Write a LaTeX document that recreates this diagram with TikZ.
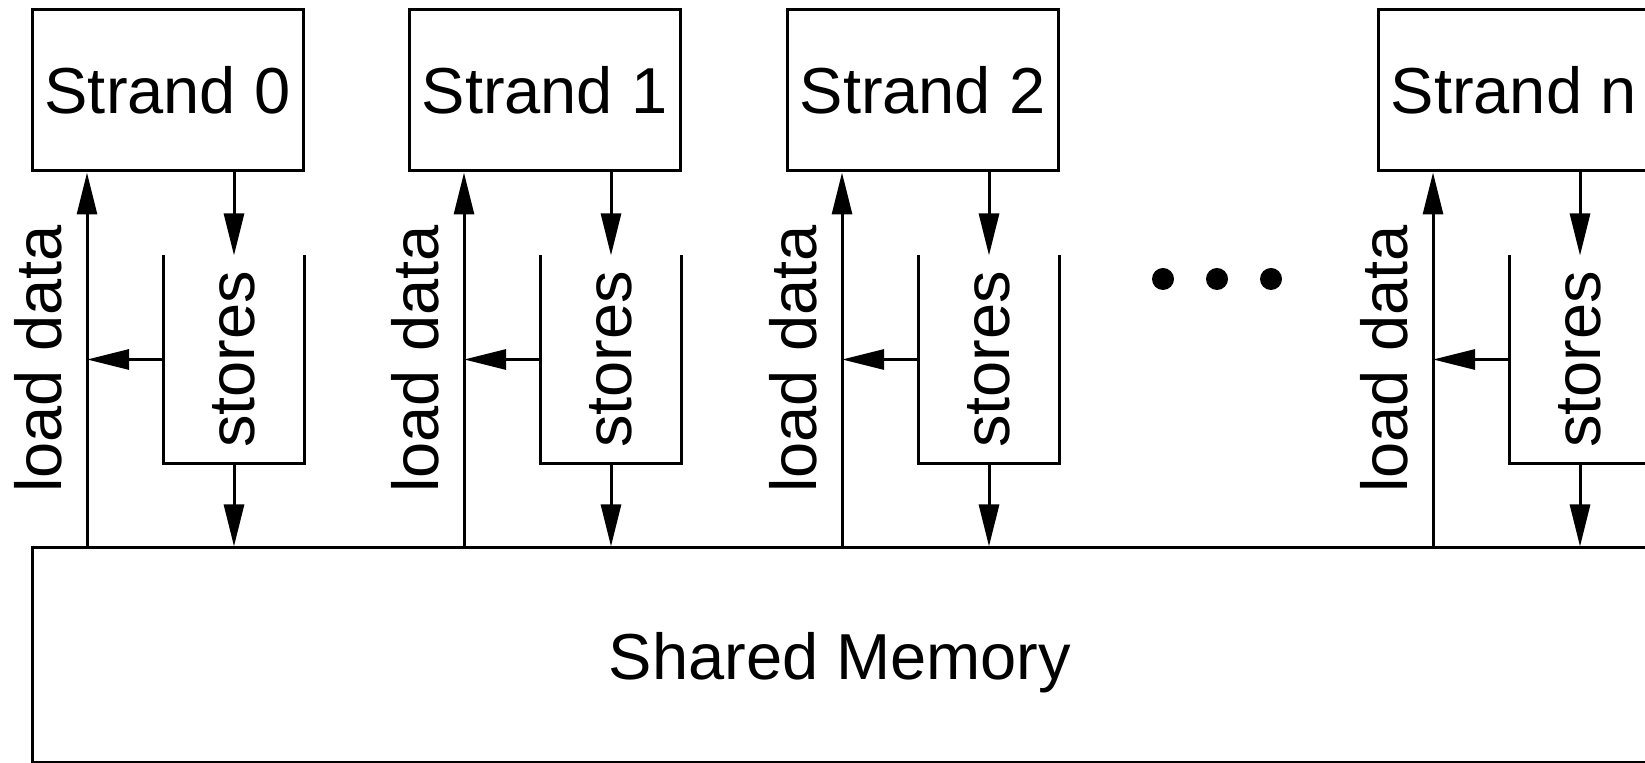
\documentclass[tikz,border=0pt]{standalone}
\usepackage{fontspec}
\setmainfont{Liberation Sans}
\usetikzlibrary{arrows.meta}
\begin{document}
\begin{tikzpicture}[x=0.5pt,y=-0.5pt,
  line width=1.5pt,
  every node/.style={font=\fontsize{32.5}{39}\selectfont, inner sep=0pt},
  strandbox/.style={draw, minimum width=135.5pt, minimum height=80.5pt},
  bucketbox/.style={minimum width=69pt, minimum height=102.5pt},
  memorybox/.style={draw, minimum width=808pt, minimum height=107.5pt, text depth=0pt},
  arr/.style={-{Triangle[length=21pt,width=10pt]}},
  dot/.style={fill=black}
]
\useasboundingbox (0,0) rectangle (1645,763);
\clip (0,0) rectangle (1645,763);

\node[memorybox] (mem) at (840,655.5) {Shared Memory};

\foreach \i/\L in {0/32, 1/409, 2/787, n/1378}{
  \node[strandbox] (s\i) at (\L+135.5, 90.5) {Strand \i};
  \coordinate (la\i) at (\L+55, 360);
  \node[bucketbox] (b\i) at (\L+202, 359.5) {\rotatebox{90}{stores}};
  \node (ld\i) at (\L+6, 359) {\rotatebox{90}{load data}};
  \draw (b\i.north west) -- (b\i.south west) -- (b\i.south east) -- (b\i.north east);
  \draw[arr] (la\i |- mem.north) -- (la\i |- s\i.south);
  \draw[arr] (s\i.south -| b\i) -- (b\i.north);
  \draw[arr] (b\i.south) -- (b\i.south |- mem.north);
  \draw[arr] (b\i.west) -- (b\i.west -| la\i);
}

\fill[dot] (1163,279) circle[radius=11];
\fill[dot] (1217,279) circle[radius=11];
\fill[dot] (1271,279) circle[radius=11];
\end{tikzpicture}
\end{document}
